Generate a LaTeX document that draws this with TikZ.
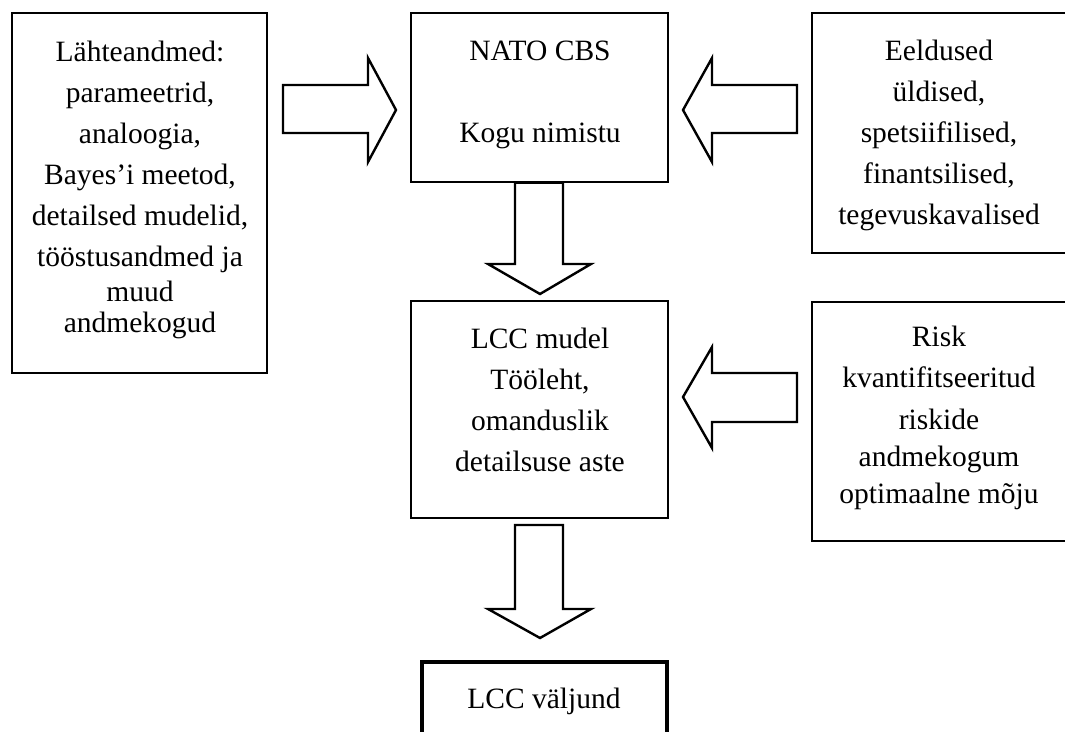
\documentclass[tikz,border=0pt]{standalone}
\usepackage{fontspec}
\setmainfont{Liberation Serif}
% strut that fixes the height of the first line of every text block
\newcommand\firstln{\rule{0pt}{24pt}}
\tikzset{
  panel/.style={draw=black, line width=1.5pt, inner sep=0pt},
  outpanel/.style={draw=black, line width=4pt, inner sep=0pt},
  boxtext/.style={align=center, inner sep=0pt, anchor=north,
    font=\fontsize{29.5}{41}\selectfont},
  blockarrow/.style={draw=black, fill=white, line width=2.4pt, line join=miter}
}
\begin{document}
\begin{tikzpicture}[x=1pt, y=-1pt]
  \useasboundingbox (0,0) rectangle (1065,731);
  \clip (0,0) rectangle (1065,731);
  \fill[white] (0,0) rectangle (1065,731);

  % boxes (corner coordinates in pixel units, y grows downwards)
  \node[panel, minimum width=255pt, minimum height=360pt] (src)  at (139.5,193) {};
  \node[panel, minimum width=257pt, minimum height=169pt] (cbs)  at (539.5,97.5) {};
  \node[panel, minimum width=255pt, minimum height=240pt] (ass)  at (939.5,133) {};
  \node[panel, minimum width=257pt, minimum height=217pt] (lcc)  at (539.5,409.5) {};
  \node[panel, minimum width=255pt, minimum height=239pt] (risk) at (939.5,421.5) {};
  \node[outpanel, minimum width=245pt, minimum height=100pt] (out) at (544.5,712) {};

  % texts
  \node[boxtext] (srctxt) at (140,37) {\firstln L\"ahteandmed:\\ parameetrid,\\ analoogia,\\
    Bayes’i meetod,\\ detailsed mudelid,\\ t\"o\"ostusandmed ja\\[-6pt] muud\\[-10pt] andmekogud};
  \node[boxtext] (cbstxt) at (540,36) {\firstln NATO CBS\\[41pt] Kogu nimistu};
  \node[boxtext] (asstxt) at (939,36) {\firstln Eeldused\\ \"uldised,\\ spetsiifilised,\\
    finantsilised,\\ tegevuskavalised};
  \node[boxtext] (lcctxt) at (540,324) {\firstln LCC mudel\\ T\"o\"oleht,\\ omanduslik\\ detailsuse aste};
  \node[boxtext] (risktxt) at (939,322) {\firstln Risk\\ kvantifitseeritud\\[1pt] riskide\\[-4pt]
    andmekogum\\[-4pt] optimaalne m\~oju};
  \node[boxtext] (outtxt) at (544,684) {\firstln LCC väljund};

  % block arrows between the boxes
  \draw[blockarrow] (283,85) -- (368,85) -- (368,58) -- (396,110) -- (368,162)
    -- (368,133) -- (283,133) -- cycle;
  \draw[blockarrow] (797,85) -- (712,85) -- (712,58) -- (683,110) -- (712,162)
    -- (712,133) -- (797,133) -- cycle;
  \draw[blockarrow] (797,373) -- (712,373) -- (712,347) -- (683,397) -- (712,448)
    -- (712,422) -- (797,422) -- cycle;
  \draw[blockarrow] ([xshift=-24.5pt]cbs.south) -- (515,264) -- (488,264) -- (540,294)
    -- (591,264) -- (563,264) -- ([xshift=23.5pt]cbs.south) -- cycle;
  \draw[blockarrow] (515,525) -- (515,609) -- (488,609) -- (540,638)
    -- (591,609) -- (563,609) -- (563,525) -- cycle;
\end{tikzpicture}
\end{document}
